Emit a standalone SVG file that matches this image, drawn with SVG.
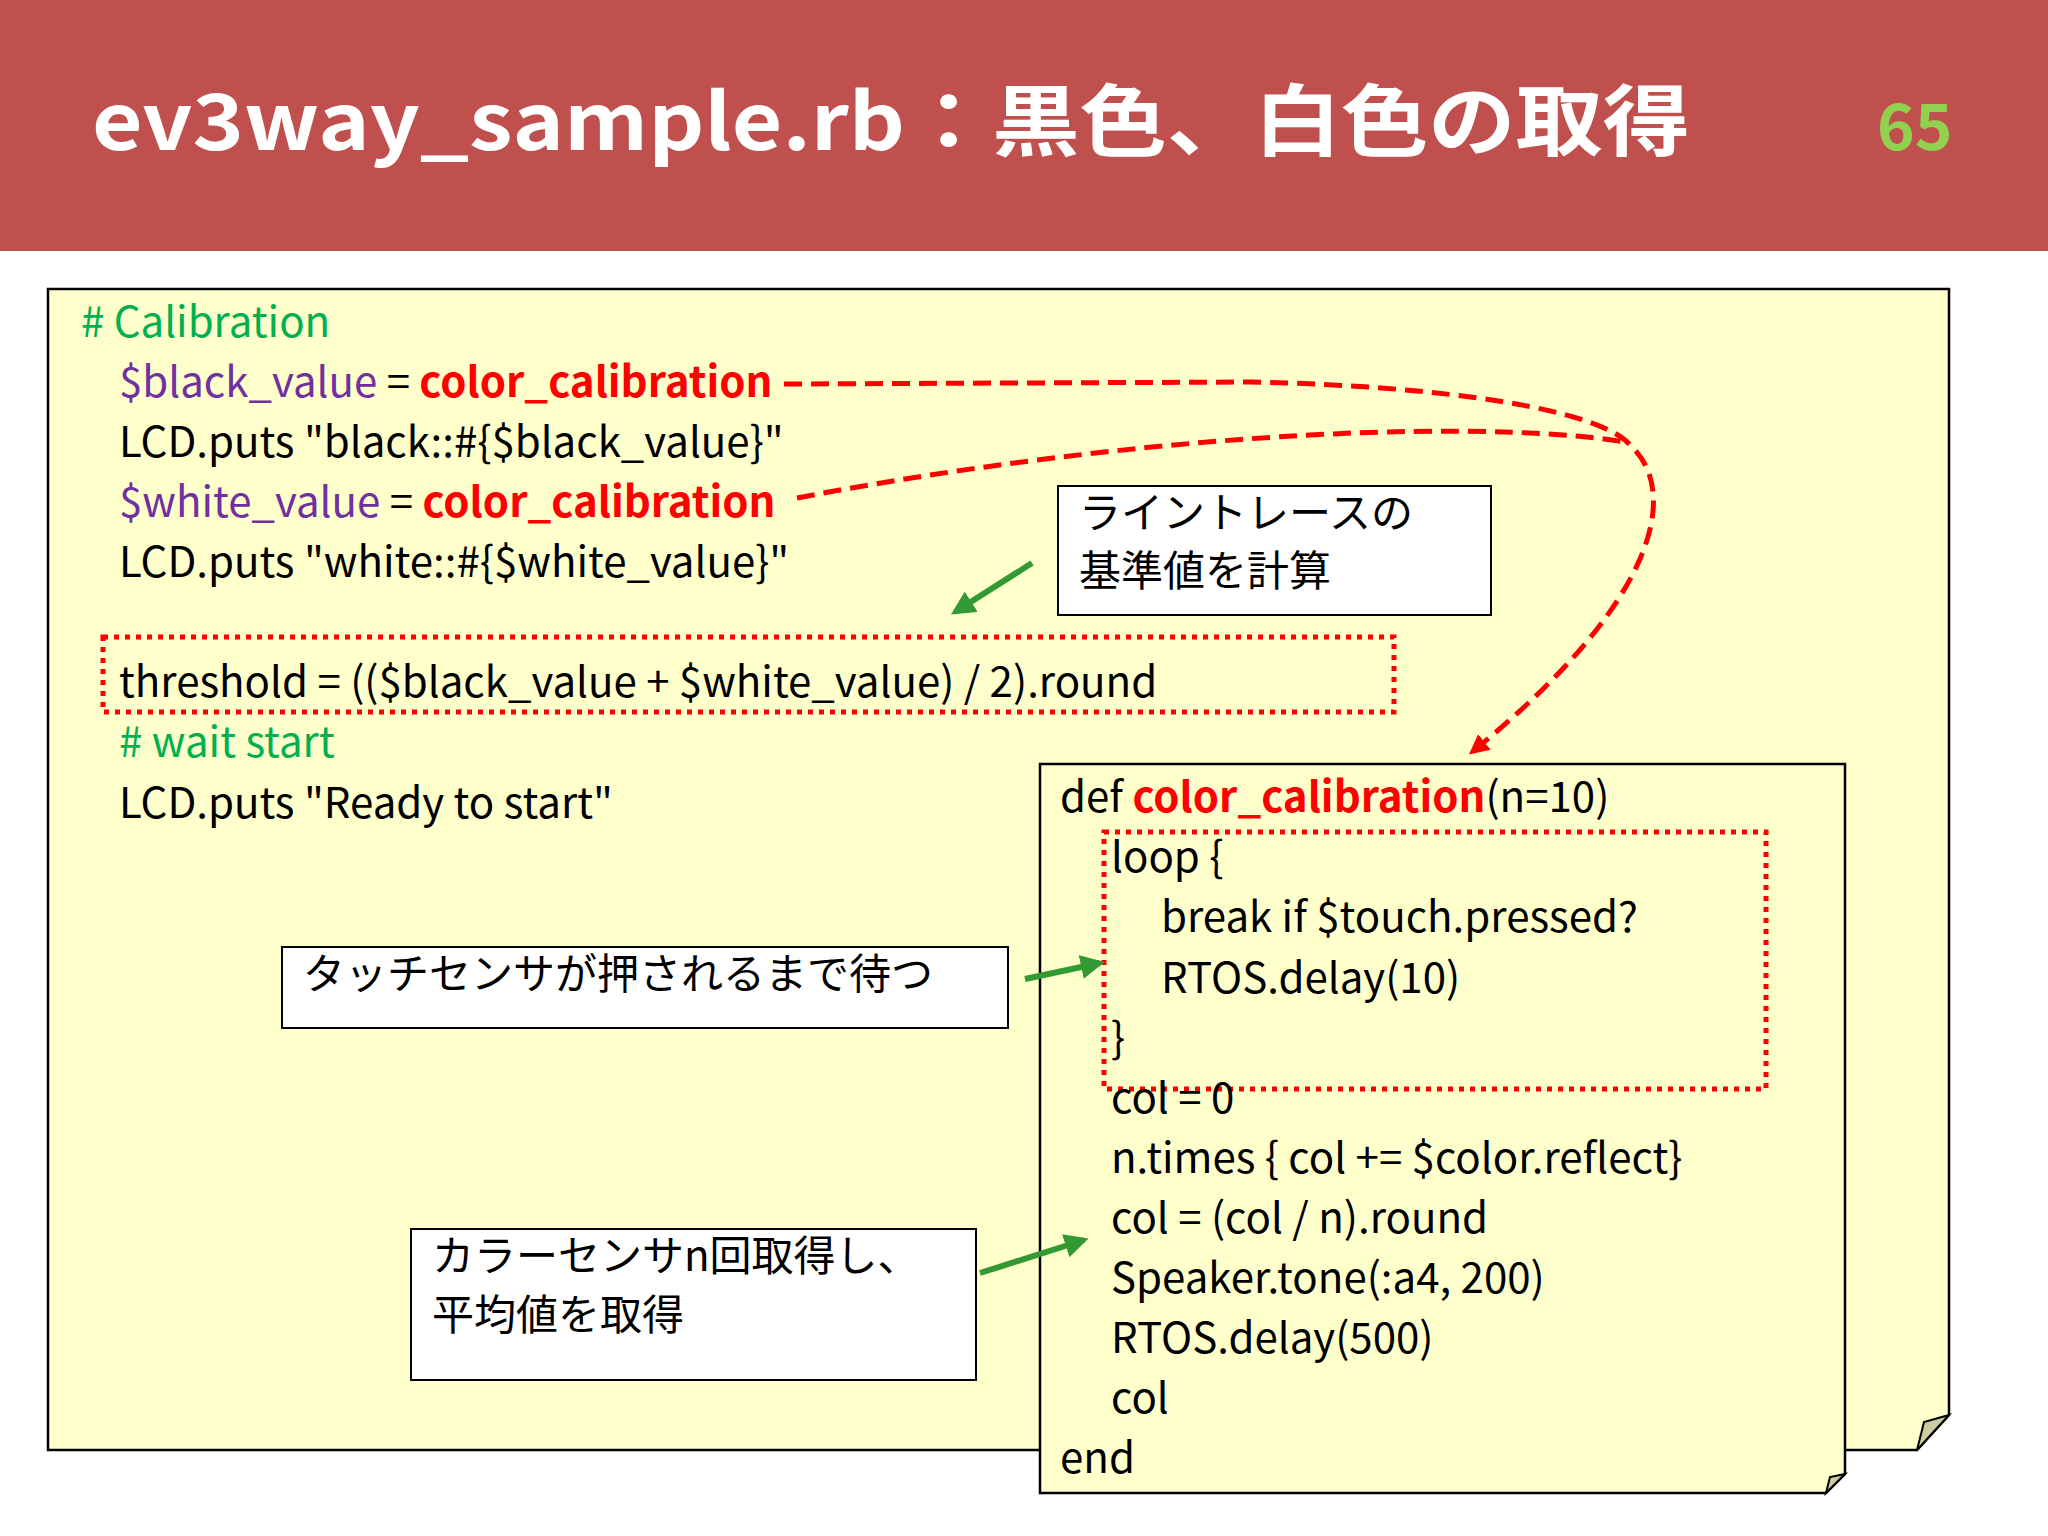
<svg xmlns="http://www.w3.org/2000/svg" width="2048" height="1536" viewBox="0 0 2048 1536">
<defs>
<style>
text{font-family:"Noto Sans CJK JP","Noto Sans",sans-serif;font-size:42px;fill:#000}
.c{fill:#00B050}.p{fill:#7030A0}.r{fill:#FF0000;font-weight:bold}
.note{fill:#FFFFCC;stroke:#000;stroke-width:2.5}
.fold{fill:#CCCCA3;stroke:#000;stroke-width:2}
.dot{fill:none;stroke:#FF0000;stroke-width:5;stroke-dasharray:5 6}
.call{fill:#fff;stroke:#000;stroke-width:2}
.g{stroke:#339933;stroke-width:6;fill:none}
.rd{stroke:#FF0000;stroke-width:5;fill:none;stroke-dasharray:18 9}
</style>
<marker id="ga" viewBox="0 0 10 10" refX="8" refY="5" markerWidth="4" markerHeight="4" orient="auto"><path d="M0,0L10,5L0,10z" fill="#339933"/></marker>
<marker id="ra" viewBox="0 0 10 10" refX="8" refY="5" markerWidth="4" markerHeight="4" orient="auto"><path d="M0,0L10,5L0,10z" fill="#FF0000"/></marker>
</defs>
<rect width="2048" height="1536" fill="#fff"/>
<g id="header">
<rect width="2048" height="251" fill="#C0504D"/>
<text x="92" y="150" textLength="1598" lengthAdjust="spacingAndGlyphs" style="font-size:78px;font-weight:bold;fill:#fff">ev3way_sample.rb：黒色、白色の取得</text>
<text x="1877" y="150" style="font-size:64px;font-weight:bold;fill:#92D050">65</text>
</g>
<g id="main">
<path class="note" d="M48,289H1949V1415L1917,1450H48Z"/>
<path class="fold" d="M1949,1415L1917,1450L1924,1422Z"/>
<text x="81" y="337" class="c"># Calibration</text>
<text x="119" y="397"><tspan class="p">$black_value</tspan> = <tspan class="r">color_calibration</tspan></text>
<text x="119" y="457">LCD.puts "black::#{$black_value}"</text>
<text x="119" y="517"><tspan class="p">$white_value</tspan> = <tspan class="r">color_calibration</tspan></text>
<text x="119" y="577">LCD.puts "white::#{$white_value}"</text>
<rect class="dot" x="103" y="637" width="1291" height="75"/>
<text x="119" y="697">threshold = (($black_value + $white_value) / 2).round</text>
<text x="119" y="757" class="c"># wait start</text>
<text x="119" y="818">LCD.puts "Ready to start"</text>
</g>
<g id="func">
<path class="note" d="M1040,764H1845V1474L1826,1493H1040Z"/>
<path class="fold" d="M1845,1474L1826,1493L1830,1477Z"/>
<text x="1060" y="812">def <tspan class="r">color_calibration</tspan>(n=10)</text>
<text x="1111" y="872">loop {</text>
<text x="1161" y="932">break if $touch.pressed?</text>
<text x="1161" y="993">RTOS.delay(10)</text>
<text x="1111" y="1053">}</text>
<rect class="dot" x="1104" y="832" width="662" height="257"/>
<text x="1111" y="1113">col = 0</text>
<text x="1111" y="1173">n.times { col += $color.reflect}</text>
<text x="1111" y="1233">col = (col / n).round</text>
<text x="1111" y="1293">Speaker.tone(:a4, 200)</text>
<text x="1111" y="1353">RTOS.delay(500)</text>
<text x="1111" y="1413">col</text>
<text x="1060" y="1473">end</text>
</g>
<g id="callout1"><rect class="call" x="1058" y="486" width="433" height="129"/><text x="1079" y="528">ライントレースの</text><text x="1079" y="586">基準値を計算</text></g>
<g id="callout2"><rect class="call" x="282" y="947" width="726" height="81"/><text x="303" y="989">タッチセンサが押されるまで待つ</text></g>
<g id="callout3"><rect class="call" x="411" y="1229" width="565" height="151"/><text x="432" y="1271">カラーセンサn回取得し、</text><text x="432" y="1330">平均値を取得</text></g>
<g id="connectors">
<path class="g" d="M1032,563L955,612" marker-end="url(#ga)"/>
<path class="g" d="M1025,979L1100,963" marker-end="url(#ga)"/>
<path class="g" d="M980,1273L1084,1240" marker-end="url(#ga)"/>
<path class="rd" d="M784,384L1250,382C1450,386 1600,410 1630,445C1680,490 1660,600 1472,752" marker-end="url(#ra)"/>
<path class="rd" d="M797,498C1100,440 1450,415 1626,442"/>
</g>
</svg>
